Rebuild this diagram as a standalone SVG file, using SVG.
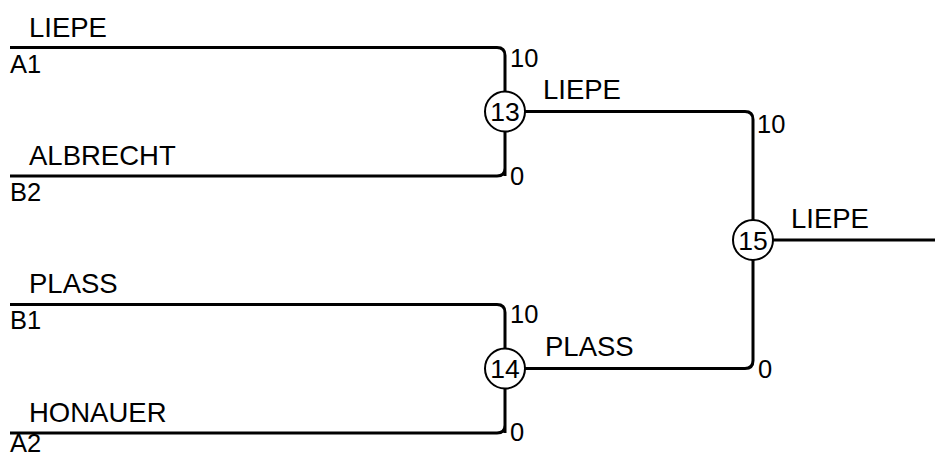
<svg xmlns="http://www.w3.org/2000/svg" width="935" height="457" viewBox="0 0 935 457">
<style>
.ln{fill:none;stroke:#000;stroke-width:3}
.nd{fill:#fff;stroke:#000;stroke-width:2}
text{font-family:"Liberation Sans",Arial,sans-serif;font-size:25.5px;fill:#000}
.nm{font-size:27.5px}
.c{text-anchor:middle;font-size:26.5px}
</style>
<rect width="935" height="457" fill="#fff"/>
<g id="connectors">
<path class="ln" d="M10,47.5 H497 Q505,47.5 505,55.5 V176 M10,176 H497 Q505,176 505,168"/>
<path class="ln" d="M10,304.5 H497 Q505,304.5 505,312.5 V433 M10,433 H497 Q505,433 505,425"/>
<path class="ln" d="M505,111.5 H745 Q753,111.5 753,119.5 V360.5 Q753,368.5 745,368.5 H505"/>
<path class="ln" d="M753,240 H935"/>
</g>
<g id="A1"><text class="nm" x="29" y="37">LIEPE</text><text x="10" y="73">A1</text></g>
<g id="B2"><text class="nm" x="29" y="165">ALBRECHT</text><text x="10" y="201">B2</text></g>
<g id="B1"><text class="nm" x="29" y="293">PLASS</text><text x="10" y="329">B1</text></g>
<g id="A2"><text class="nm" x="29" y="422">HONAUER</text><text x="10" y="452">A2</text></g>
<g id="n13">
<circle class="nd" cx="505" cy="111.5" r="20"/>
<text class="c" x="505" y="121">13</text>
<text x="510" y="67">10</text><text x="510" y="185">0</text>
<text class="nm" x="543" y="99">LIEPE</text>
</g>
<g id="n14">
<circle class="nd" cx="505" cy="368.5" r="20"/>
<text class="c" x="505" y="378">14</text>
<text x="510" y="323">10</text><text x="510" y="441">0</text>
<text class="nm" x="545" y="356">PLASS</text>
</g>
<g id="n15">
<circle class="nd" cx="753" cy="240" r="20"/>
<text class="c" x="753" y="249.5">15</text>
<text x="757" y="133">10</text><text x="758" y="378">0</text>
<text class="nm" x="791" y="228">LIEPE</text>
</g>
</svg>
